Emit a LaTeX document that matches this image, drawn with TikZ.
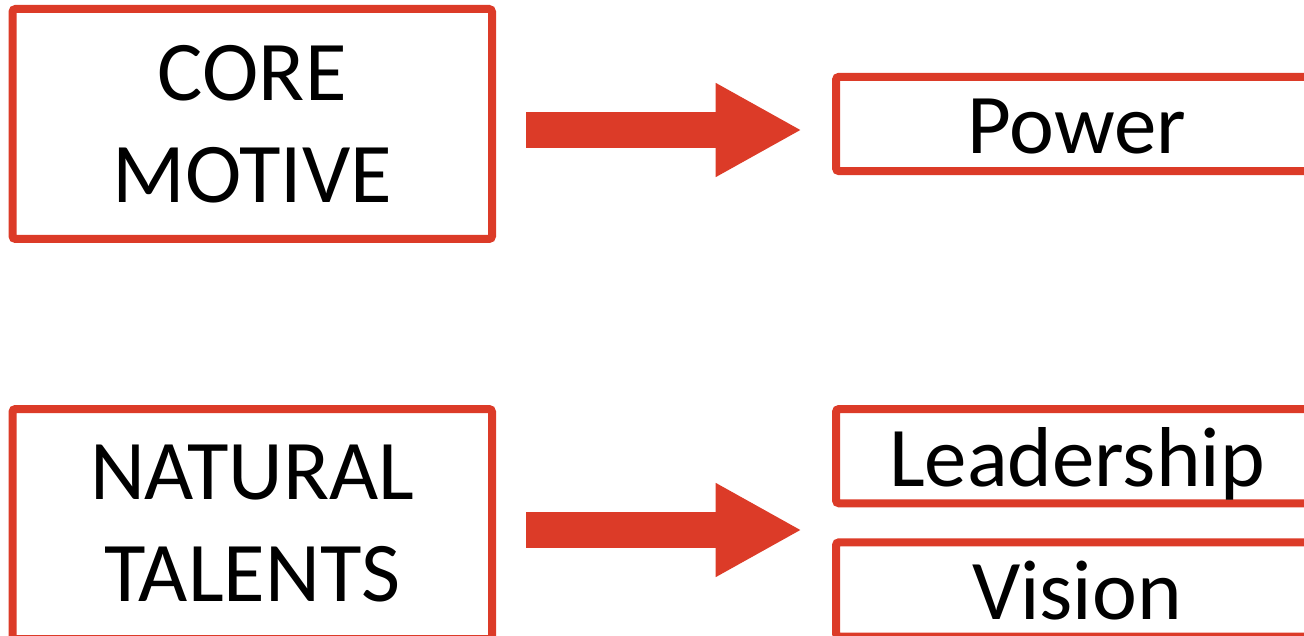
\documentclass[tikz,border=0pt]{standalone}
\usepackage{fontspec}
\setmainfont{Carlito}
\usetikzlibrary{positioning,arrows.meta}
\definecolor{boxred}{RGB}{220,59,40}
\tikzset{
      box/.style      = {draw=boxred, line width=8pt, rounded corners=3pt, align=center, inner sep=0pt,
                         font=\fontsize{85}{102}\selectfont},
      bigbox/.style   = {box, minimum width=479.5pt, minimum height=230pt},
      smallbox/.style = {box, minimum width=482pt, minimum height=94.3pt, text height=60pt, text depth=0pt},
      fatarrow/.style = {boxred, line width=36.6pt, -{Triangle[length=86.4pt, width=87.6pt]}},
    }

\begin{document}
\begin{tikzpicture}[x=1pt, y=-1pt, node distance=336pt
    ]
    \useasboundingbox (0,0) rectangle (1304,636);
    \node [bigbox] (core) at (252.25,124) {CORE\\MOTIVE};
    \node [smallbox, right=of core] (power) {Power};
    \node [bigbox, below=162pt of core] (talents) {NATURAL\\TALENTS};
    \node [smallbox, anchor=north west] (lead) at ([xshift=336pt]talents.north east) {Leadership};
    \node [smallbox, below=31pt of lead] (vision) {Vision};
    \coordinate (tip) at (talents.east -| lead.west);

    \draw [fatarrow] ([shift={(30,6)}]core.east) -- ([shift={(-30,6)}]power.west);
    \draw [fatarrow] ([shift={(30,6)}]talents.east) -- ([shift={(-30,6)}]tip);
\end{tikzpicture}
\end{document}
